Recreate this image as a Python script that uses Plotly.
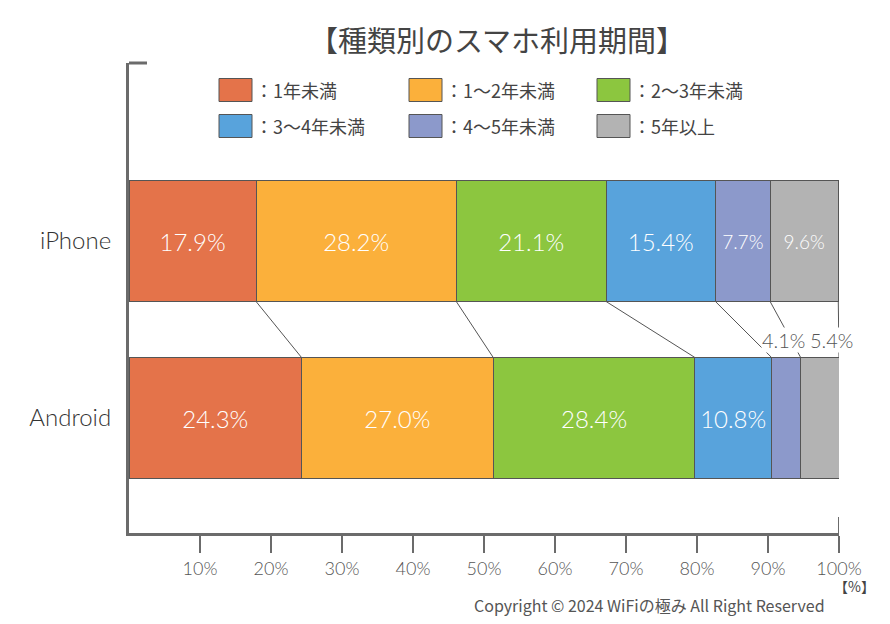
import plotly.graph_objects as go

# data
devices = ["iPhone", "Android"]
periods = ["1年未満", "1〜2年未満", "2〜3年未満", "3〜4年未満", "4〜5年未満", "5年以上"]
iphone = [17.9, 28.2, 21.1, 15.4, 7.7, 9.6]
android = [24.3, 27.0, 28.4, 10.8, 4.1, 5.4]
ticks = [10, 20, 30, 40, 50, 60, 70, 80, 90, 100]

colors = ["#E4734A", "#FBB03B", "#8CC63F", "#58A3DC", "#8C99CB", "#B3B3B3"]
edge = "#555555"
axis_col = "#6b6b6b"
num_font = "Lato"
jp_font = "Noto Sans CJK JP"

W, H = 890, 624
OX, OY = 7, 8  # page offset of the figure
L, R, T, B = 128 - OX, 838 - OX, 63 - OY, 533 - OY  # plot area in figure pixels

def px_x(p):
    return (p - OX - L) / (R - L)

def px_y(p):
    return (B - (p - OY)) / (B - T)

half = 0.342  # half bar height
fig = go.Figure()

for i, name in enumerate(periods):
    vals = [iphone[i], android[i]]
    txt = []
    sizes = []
    for v in vals:
        if v < 6:
            txt.append("")  # labelled outside
        else:
            txt.append(f"{v:.1f}%")
        sizes.append(24 if v >= 10 else 19)
    fig.add_trace(go.Bar(
        x=vals, y=[1, 0], orientation="h", width=2 * half, name=name,
        marker=dict(color=colors[i], line=dict(color=edge, width=1)),
        text=txt, textposition="inside", insidetextanchor="middle",
        textangle=0, textfont=dict(color="white", size=sizes, family=num_font, weight=300),
        hovertemplate=name + ": %{x}%<extra></extra>", showlegend=False,
    ))

# connector lines between the two bars
ci, ca = 0, 0
shapes = []
for i in range(len(periods)):
    ci += iphone[i]
    ca += android[i]
    shapes.append(dict(type="line", xref="x", yref="y", x0=ci, y0=1 - half,
                       x1=ca, y1=half, line=dict(color=edge, width=1), layer="below"))

# top cap of the y axis and raised tick at 100%
shapes.append(dict(type="line", xref="paper", yref="paper", x0=0, x1=px_x(146),
                   y0=1, y1=1, line=dict(color=axis_col, width=3)))
shapes.append(dict(type="line", xref="x", yref="paper", x0=100, x1=100,
                   y0=0, y1=px_y(517), line=dict(color=axis_col, width=2)))

annotations = []
# outside labels for the small Android segments
start = sum(android[:4])
for v, shift in [(android[4], -3), (android[5], 12)]:
    annotations.append(dict(x=start + v / 2, y=0.44, xref="x", yref="y",
                            text=f"{v:.1f}%", showarrow=False, xshift=shift,
                            bgcolor="white", borderpad=0,
                            font=dict(size=20, color="#555555", family=num_font, weight=300)))
    start += v

# legend drawn as swatches
cols_x = [218, 408, 596]
rows_y = [90, 126]
for i, name in enumerate(periods):
    cx = cols_x[i % 3]
    cy = rows_y[i // 3]
    shapes.append(dict(type="rect", xref="paper", yref="paper",
                       x0=px_x(cx), x1=px_x(cx + 33), y0=px_y(cy - 11.5), y1=px_y(cy + 11.5),
                       fillcolor=colors[i], line=dict(color=edge, width=1)))
    annotations.append(dict(x=px_x(cx + 34), y=px_y(cy), xref="paper", yref="paper",
                            xanchor="left", yanchor="middle", showarrow=False,
                            text="：" + name,
                            font=dict(size=18, color="#444444", family=jp_font)))

annotations.append(dict(x=px_x(876), y=px_y(586), xref="paper", yref="paper",
                        xanchor="right", yanchor="middle", showarrow=False, text="【%】",
                        font=dict(size=14, color="#444444", family=jp_font)))
annotations.append(dict(x=px_x(826), y=px_y(605), xref="paper", yref="paper",
                        xanchor="right", yanchor="middle", showarrow=False,
                        text="Copyright © 2024 WiFiの極み All Right Reserved",
                        font=dict(size=16, color="#555555",
                                  family="Liberation Sans Narrow, " + jp_font)))

y_top = 1 + (241 - 63) / 177
y_bot = -(533 - 418) / 177

fig.update_layout(
    width=W, height=H, barmode="stack",
    margin=dict(l=L, r=W - R, t=T, b=H - B),
    plot_bgcolor="white", paper_bgcolor="white",
    title=dict(text="【種類別のスマホ利用期間】", x=(496 - OX) / W, xanchor="center",
               y=1 - (42 - OY) / H, yanchor="middle",
               font=dict(size=29, color="#444444", family=jp_font)),
    xaxis=dict(range=[0, 100], tickvals=ticks, ticktext=[f"{t}%" for t in ticks],
               ticks="outside", ticklen=17, tickwidth=2, tickcolor=axis_col,
               showline=True, linewidth=3, linecolor=axis_col, showgrid=False,
               zeroline=False,
               tickfont=dict(size=18, color="#555555", family=num_font, weight=300)),
    yaxis=dict(range=[y_bot, y_top], tickvals=[1, 0], ticktext=devices,
               showline=True, linewidth=3, linecolor=axis_col, showgrid=False,
               zeroline=False, ticks="", ticklabelstandoff=10,
               tickfont=dict(size=24, color="#333333", family=num_font, weight=300)),
    shapes=shapes, annotations=annotations, showlegend=False,
)

fig.write_html("out.html")
